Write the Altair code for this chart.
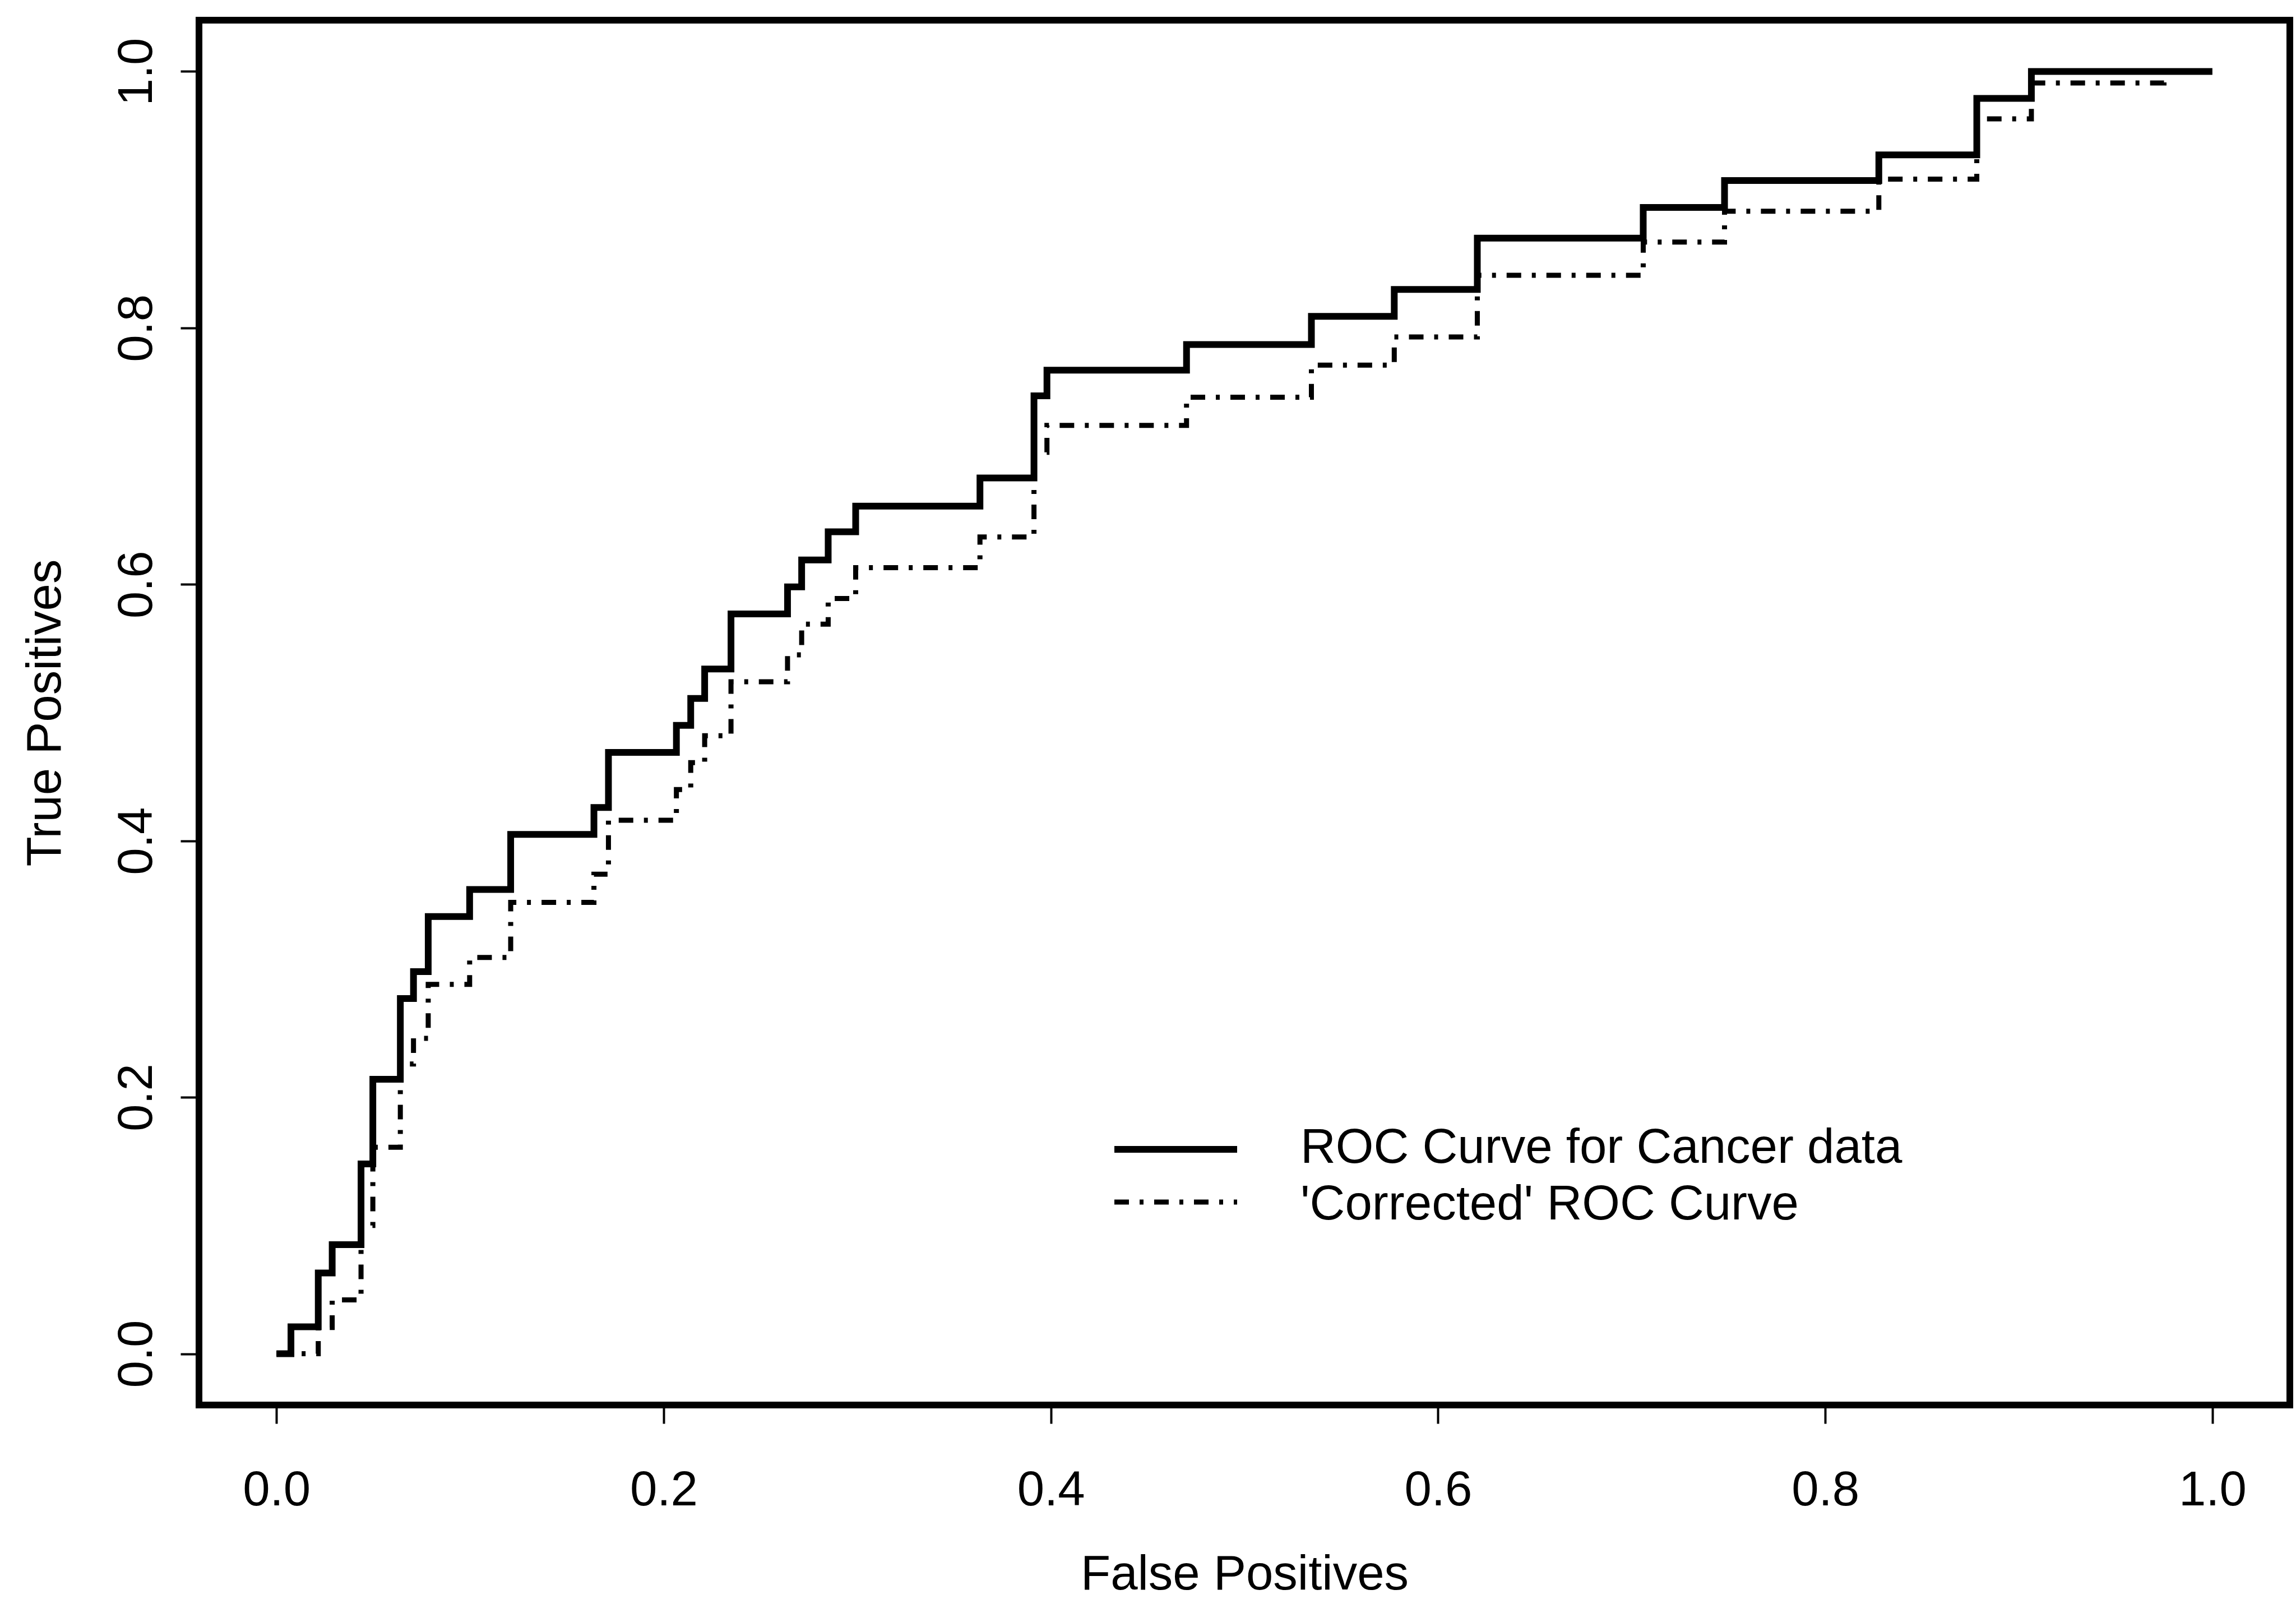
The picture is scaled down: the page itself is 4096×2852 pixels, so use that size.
import altair as alt
import pandas as pd

# ---------------- data ----------------
fpr = [0.0, 0.0075, 0.0216, 0.0288, 0.0437, 0.0498, 0.064, 0.0708, 0.0784,
       0.0998, 0.121, 0.164, 0.1715, 0.2066, 0.214, 0.2212, 0.2348, 0.264,
       0.2713, 0.285, 0.2992, 0.3634, 0.3913, 0.398, 0.4701, 0.5346, 0.5774,
       0.6203, 0.706, 0.748, 0.8277, 0.8783, 0.9065, 0.975, 1.0]

tpr_roc = [0.0, 0.021, 0.063, 0.085, 0.148, 0.214, 0.277, 0.298, 0.341,
           0.362, 0.405, 0.426, 0.469, 0.490, 0.511, 0.534, 0.577, 0.598,
           0.619, 0.641, 0.661, 0.683, 0.747, 0.767, 0.787, 0.809, 0.830,
           0.870, 0.894, 0.915, 0.935, 0.979, 1.0, 1.0, 1.0]

tpr_corrected = [0.0, 0.0, 0.0205, 0.042, 0.100, 0.161, 0.226, 0.246, 0.288,
                 0.309, 0.352, 0.374, 0.416, 0.440, 0.461, 0.482, 0.524, 0.545,
                 0.569, 0.589, 0.613, 0.637, 0.703, 0.724, 0.746, 0.771, 0.793,
                 0.841, 0.867, 0.891, 0.916, 0.963, 0.991, 1.0, 1.0]

legend_labels = ["ROC Curve for Cancer data", "'Corrected' ROC Curve"]
tick_values = [0.0, 0.2, 0.4, 0.6, 0.8, 1.0]
x_title = "False Positives"
y_title = "True Positives"

# ---------------- layout / style ----------------
W, H = 3730, 2470
PAD_L, PAD_T = 355, 36
FONT = "Liberation Sans"
FS = 87
DASH = [26, 19, 7, 19]
SOLID_W = 12
DASH_W = 9

df_roc = pd.DataFrame({"fpr": fpr, "tpr": tpr_roc})
df_cor = pd.DataFrame({"fpr": fpr, "tpr": tpr_corrected})

xscale = alt.Scale(domain=[-0.04, 1.04], nice=False, zero=False)
yscale = alt.Scale(domain=[-0.04, 1.04], nice=False, zero=False)

x_axis = alt.Axis(
    values=tick_values, format=".1f", title=x_title, grid=False, domain=False,
    tickSize=33, tickWidth=4, tickColor="black",
    labelFont=FONT, labelFontSize=FS, labelColor="black",
    labelPadding=76, labelBaseline="top", labelAlign="center",
    labelFlush=False, labelOverlap=False,
    titleFont=FONT, titleFontSize=FS, titleFontWeight="normal", titleColor="black",
    titleBaseline="alphabetic", titleAlign="center", titleX=W / 2, titleY=328,
)
y_axis = alt.Axis(
    values=tick_values, format=".1f", title=y_title, grid=False, domain=False,
    tickSize=33, tickWidth=4, tickColor="black",
    labelFont=FONT, labelFontSize=FS, labelColor="black",
    labelAngle=270, labelAlign="center", labelBaseline="alphabetic",
    labelPadding=52, labelFlush=False, labelOverlap=False,
    titleFont=FONT, titleFontSize=FS, titleFontWeight="normal", titleColor="black",
    titleAngle=270, titleBaseline="alphabetic", titleAlign="center",
    titleX=107 - PAD_L, titleY=H / 2,
)

roc = alt.Chart(df_roc).mark_line(
    interpolate="step-after", color="black", strokeWidth=SOLID_W,
    strokeCap="butt", strokeJoin="miter"
).encode(
    x=alt.X("fpr:Q", scale=xscale, axis=x_axis),
    y=alt.Y("tpr:Q", scale=yscale, axis=y_axis),
)

cor = alt.Chart(df_cor).mark_line(
    interpolate="step-after", color="black", strokeWidth=DASH_W,
    strokeDash=DASH, strokeCap="butt", strokeJoin="miter"
).encode(
    x=alt.X("fpr:Q", scale=xscale),
    y=alt.Y("tpr:Q", scale=yscale),
)

# legend (layout positions in pixels)
leg1 = pd.DataFrame({"label": [legend_labels[0]]})
leg2 = pd.DataFrame({"label": [legend_labels[1]]})

rule1 = alt.Chart(leg1).mark_rule(color="black", strokeWidth=SOLID_W, strokeCap="butt").encode(
    x=alt.value(1633), x2=alt.value(1852), y=alt.value(2014))
rule2 = alt.Chart(leg2).mark_rule(color="black", strokeWidth=DASH_W, strokeCap="butt",
                                  strokeDash=DASH).encode(
    x=alt.value(1633), x2=alt.value(1852), y=alt.value(2108))
text1 = alt.Chart(leg1).mark_text(align="left", baseline="alphabetic", font=FONT,
                                  fontSize=FS, color="black").encode(
    x=alt.value(1965), y=alt.value(2038), text="label:N")
text2 = alt.Chart(leg2).mark_text(align="left", baseline="alphabetic", font=FONT,
                                  fontSize=FS, color="black").encode(
    x=alt.value(1965), y=alt.value(2139), text="label:N")

chart = alt.layer(roc, cor, rule1, rule2, text1, text2).properties(
    width=W, height=H,
    autosize=alt.AutoSizeParams(type="none"),
    padding={"left": PAD_L, "top": PAD_T, "right": 4096 - PAD_L - W,
             "bottom": 2852 - PAD_T - H},
    background="white",
).configure_view(stroke="black", strokeWidth=12)

chart.save("out.html", embed_options={"renderer": "svg", "actions": False})
